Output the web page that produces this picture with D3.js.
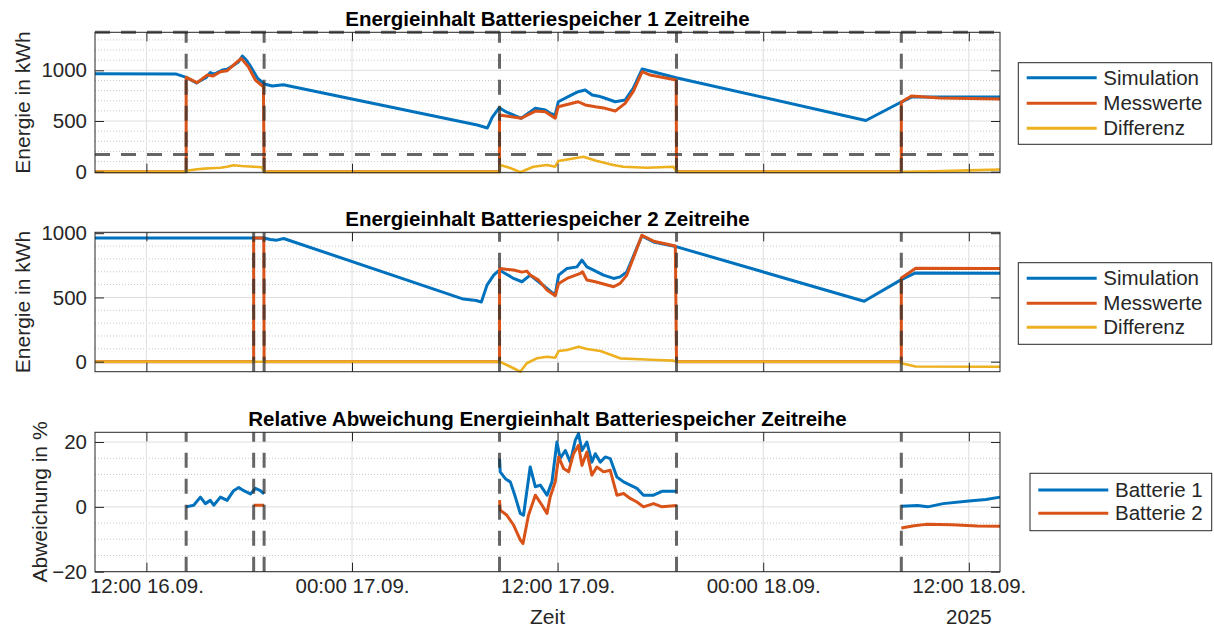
<!DOCTYPE html>
<html><head><meta charset="utf-8">
<title>Energieinhalt Batteriespeicher</title>
<script src="https://cdn.jsdelivr.net/npm/d3@7"></script>
<style>
  body { margin: 0; background: #fff; }
  svg text { font-family: "Liberation Sans", Arial, Helvetica, sans-serif; }
</style>
</head>
<body>
<svg id="fig" width="1214" height="627"></svg>
<script>

// ---- data: time in hours since 16.09.2025 00:00 ----

const xRangeHours = [9.0, 61.82];
const xTickHours = [12, 24, 36, 48, 60];

// Batteriespeicher 1 (kWh)
const sim1 = [[9.0,966],[13.75,963],[14.33,931],[14.6,905],[14.92,875],[15.33,914],[15.5,930],[15.73,978],[15.9,962],[16.08,973],[16.43,1003],[16.7,1010],[17.02,1042],[17.37,1082],[17.6,1141],[17.83,1101],[18.07,1042],[18.48,924],[18.88,865],[19.35,845],[19.99,858],
  [31.31,460],[31.9,431],[32.19,539],[32.6,631],[33.0,589],[33.88,527],[34.7,625],[35.28,608],[35.57,576],[35.86,559],[36.04,690],[36.62,740],[37.2,789],[37.61,806],[38.02,756],[38.4,745],[38.78,724],[39.36,690],[39.94,707],[40.41,822],[40.94,1013],[42.92,927],
  [53.99,505],[56.06,687],[56.65,736],[61.82,736]];
const mess1 = [[9.0,0],[14.32,0],[14.32,931],[14.96,878],[15.54,953],[15.9,945],[16.32,986],[16.7,995],[17.08,1052],[17.53,1118],[17.95,1035],[18.36,904],[18.83,838],[18.87,0],
  [32.61,0],[32.61,559],[33.0,549],[33.88,527],[34.7,598],[35.28,592],[35.86,527],[36.04,641],[36.62,665],[37.2,690],[37.61,658],[38.2,640],[38.78,625],[39.36,598],[39.94,674],[40.41,789],[40.94,986],[41.4,953],[42.92,904],[42.94,0],
  [56.06,0],[56.06,687],[56.65,746],[58.3,727],[61.82,718]];
const diff1 = [[9.0,0],[14.32,0],[14.33,10],[14.96,24],[15.4,30],[15.73,34],[16.32,39],[16.7,48],[17.08,63],[17.57,56],[18.26,49],[18.75,43],[18.87,0],
  [32.61,0],[32.65,66],[33.24,36],[33.82,-6],[34.58,49],[35.38,66],[35.86,49],[36.04,105],[36.74,125],[37.5,148],[38.3,105],[39.25,66],[39.83,49],[41.22,39],[42.76,49],[42.94,0],
  [56.06,0],[58.0,5],[60.0,13],[61.82,22]];
const limits1 = [1375, 170];
const marks1 = [14.32, 18.87, 32.61, 42.94, 56.06];

// Batteriespeicher 2 (kWh)
const sim2 = [[9.0,963],[18.85,963],[19.23,951],[19.62,946],[20.01,959],[30.5,487],[31.25,476],[31.55,464],[31.88,596],[32.27,674],[32.6,713],[33.04,679],[33.43,648],[33.92,622],[34.4,674],[34.89,622],[35.38,570],[35.86,518],[36.06,674],[36.55,726],[37.13,738],[37.42,790],[37.71,738],[38.1,713],[38.68,674],[39.27,648],[39.65,660],[40.04,699],[40.92,979],[41.6,932],[42.96,894],
  [53.89,470],[56.06,639],[56.85,690],[61.82,688]];
const mess2 = [[9.0,0],[18.26,0],[18.26,963],[18.85,963],[18.87,0],[32.61,0],[32.61,726],[33.0,719],[33.43,713],[33.92,697],[34.2,705],[34.4,674],[34.89,635],[35.38,557],[35.86,513],[36.06,609],[36.55,648],[37.33,687],[37.45,700],[37.71,635],[38.2,622],[39.27,583],[39.65,609],[40.04,674],[40.92,984],[41.6,938],[42.87,901],[42.94,0],
  [56.06,0],[56.06,652],[56.9,728],[61.82,726]];
const diff2 = [[9.0,0],[32.61,0],[33.04,-26],[33.43,-51],[33.82,-78],[34.2,-12],[34.78,26],[35.38,39],[35.86,31],[36.06,83],[36.55,91],[37.23,117],[37.71,99],[38.5,83],[39.65,26],[40.8,19],[41.8,13],[42.76,8],[42.94,0],
  [56.06,0],[56.06,-13],[56.9,-38],[61.82,-40]];
const marks2 = [18.26, 18.87, 32.61, 42.94, 56.06];

// relative Abweichung (%), null = Lücke
const dev1 = [[14.32,0],[14.76,0.5],[15.15,3],[15.44,1],[15.73,2],[15.93,0.5],[16.32,3],[16.71,2],[17.09,5],[17.39,6],[17.68,5],[18.07,4],[18.36,5.7],[18.65,5],[18.87,4],[18.9,null],
  [32.61,14.9],[32.65,10.8],[32.95,8.7],[33.24,7.7],[33.53,3.1],[33.82,-2],[34.01,-2.6],[34.4,12.3],[34.7,6.2],[34.99,6.7],[35.38,3.6],[35.67,7.7],[35.96,20],[36.15,14.9],[36.45,17.4],[36.74,13.8],[37.03,20.5],[37.22,22.6],[37.42,17.4],[37.71,20],[38.0,13.8],[38.2,16.4],[38.49,13.8],[38.78,15.4],[39.07,14.9],[39.46,9.2],[39.85,7.7],[40.24,6.7],[40.63,5.7],[41.01,3.6],[41.6,3.6],[42.09,4.8],[42.96,4.8],[43.0,null],
  [56.06,0.2],[57.0,0.4],[57.6,0],[58.5,1],[60.0,1.8],[61.0,2.3],[61.82,3]];
const dev2 = [[18.26,0.5],[18.87,0.5],[18.9,null],
  [32.61,2.1],[32.65,-1],[33.04,-2.6],[33.43,-5.6],[33.82,-10.2],[33.98,-11.3],[34.3,-2.6],[34.7,3.6],[35.09,0.5],[35.38,-2],[35.57,3.1],[35.86,7.7],[36.06,15.4],[36.35,11.8],[36.64,10.8],[36.93,16.4],[37.22,19],[37.42,12.8],[37.71,16.9],[38.0,9.8],[38.29,12.3],[38.68,10.8],[39.07,11.3],[39.46,3.6],[39.85,4.1],[40.24,2.6],[40.63,1.5],[41.01,0],[41.6,1],[42.09,0],[42.96,0.4],[43.0,null],
  [56.06,-6.5],[56.8,-5.8],[57.5,-5.4],[59.0,-5.5],[60.5,-5.9],[61.82,-6]];
const marks3 = [14.32, 18.26, 18.87, 32.61, 42.94, 56.06];

// ---- layout ----
const blue = "#0072BD", orange = "#D95319", yellow = "#EDB120";
const axisColor = "#262626";
const t0 = Date.UTC(2025, 8, 16);
const toDate = h => new Date(t0 + h * 3600e3);
const fmt = d3.utcFormat("%H:%M %d.%m.");

const left = 95, right = 1000;
const x = d3.scaleUtc().domain(xRangeHours.map(toDate)).range([left, right]);

const panels = [
  { top: 32.3, bottom: 172.7, ylim: [-10, 1375], yticks: [0, 500, 1000], minor: d3.range(100, 1375, 100),
    title: "Energieinhalt Batteriespeicher 1 Zeitreihe", ylabel: "Energie in kWh", labelX: 30,
    series: [[sim1, blue, 3], [mess1, orange, 3], [diff1, yellow, 2.6]], marks: marks1, hlines: limits1,
    legend: { x: 1018.3, y: 62.7, w: 193.4, h: 81.6, rows: [15, 40.6, 65.6], lx: [8.4, 78.4], tx: 85,
              items: [["Simulation", blue], ["Messwerte", orange], ["Differenz", yellow]] } },
  { top: 232.3, bottom: 371.7, ylim: [-78, 1007], yticks: [0, 500, 1000], minor: d3.range(100, 1000, 100),
    title: "Energieinhalt Batteriespeicher 2 Zeitreihe", ylabel: "Energie in kWh", labelX: 30,
    series: [[sim2, blue, 3], [mess2, orange, 3], [diff2, yellow, 2.6]], marks: marks2, hlines: [],
    legend: { x: 1018.3, y: 262.7, w: 193.4, h: 81.6, rows: [15.6, 40.6, 64.6], lx: [8.4, 78.4], tx: 85,
              items: [["Simulation", blue], ["Messwerte", orange], ["Differenz", yellow]] } },
  { top: 432.3, bottom: 571.7, ylim: [-20, 23], yticks: [-20, 0, 20], minor: [-15, -10, -5, 5, 10, 15],
    title: "Relative Abweichung Energieinhalt Batteriespeicher Zeitreihe", ylabel: "Abweichung in %", labelX: 47,
    series: [[dev1, blue, 3], [dev2, orange, 3]], marks: marks3, hlines: [], xlabels: true,
    legend: { x: 1030, y: 473.3, w: 181.7, h: 57.4, rows: [16.7, 40], lx: [8.3, 78.3], tx: 85,
              items: [["Batterie 1", blue], ["Batterie 2", orange]] } }
];

const svg = d3.select("#fig");

panels.forEach(p => {
  const y = d3.scaleLinear().domain(p.ylim).range([p.bottom, p.top]);
  const h = p.bottom - p.top;
  const g = svg.append("g");

  // grid: minor dotted, major solid
  const minor = p.minor.filter(v => !p.yticks.includes(v));
  g.selectAll("line.minor").data(minor).join("line")
    .attr("x1", left).attr("x2", right)
    .attr("y1", d => y(d)).attr("y2", d => y(d))
    .attr("stroke", "#c8c8c8").attr("stroke-width", 1).attr("stroke-dasharray", "1,2");
  g.selectAll("line.ygrid").data(p.yticks).join("line")
    .attr("x1", left).attr("x2", right)
    .attr("y1", d => y(d)).attr("y2", d => y(d))
    .attr("stroke", "#dedede").attr("stroke-width", 1);
  g.selectAll("line.xgrid").data(xTickHours).join("line")
    .attr("x1", d => x(toDate(d))).attr("x2", d => x(toDate(d)))
    .attr("y1", p.top).attr("y2", p.bottom)
    .attr("stroke", "#dedede").attr("stroke-width", 1);

  // data lines
  const line = d3.line()
    .defined(d => d[1] !== null)
    .x(d => x(toDate(d[0])))
    .y(d => y(d[1]));
  p.series.forEach(([data, color, w]) => {
    g.append("path").datum(data)
      .attr("d", line)
      .attr("fill", "none").attr("stroke", color).attr("stroke-width", w)
      .attr("stroke-linejoin", "round");
  });

  // segment markers and limits (dashed)
  g.selectAll("line.mark").data(p.marks).join("line")
    .attr("x1", d => x(toDate(d))).attr("x2", d => x(toDate(d)))
    .attr("y1", p.bottom).attr("y2", p.top)
    .attr("stroke", "#333").attr("stroke-opacity", 0.75)
    .attr("stroke-width", 3).attr("stroke-dasharray", "15,11");
  g.selectAll("line.limit").data(p.hlines).join("line")
    .attr("x1", left).attr("x2", right)
    .attr("y1", d => y(d)).attr("y2", d => y(d))
    .attr("stroke", "#333").attr("stroke-opacity", 0.75)
    .attr("stroke-width", 3).attr("stroke-dasharray", "15,11");

  // box
  g.append("rect").attr("x", left).attr("y", p.top)
    .attr("width", right - left).attr("height", h)
    .attr("fill", "none").attr("stroke", axisColor).attr("stroke-width", 1);

  // axes with inward ticks
  const styleAxis = sel => {
    sel.select(".domain").remove();
    sel.selectAll(".tick line").attr("stroke", axisColor);
    sel.selectAll(".tick text").attr("fill", axisColor).style("font-size", "20.5px");
  };
  g.append("g").attr("transform", `translate(${left},0)`)
    .call(d3.axisLeft(y).tickValues(p.yticks).tickSize(-9).tickPadding(8).tickFormat(d3.format("d")))
    .call(styleAxis);
  g.append("g").attr("transform", `translate(${right},0)`)
    .call(d3.axisRight(y).tickValues(p.yticks).tickSize(-9).tickFormat(""))
    .call(styleAxis);
  g.append("g").attr("transform", `translate(0,${p.top})`)
    .call(d3.axisTop(x).tickValues(xTickHours.map(toDate)).tickSize(-9).tickFormat(""))
    .call(styleAxis);
  g.append("g").attr("transform", `translate(0,${p.bottom})`)
    .call(d3.axisBottom(x).tickValues(xTickHours.map(toDate)).tickSize(-9).tickPadding(7)
      .tickFormat(p.xlabels ? fmt : ""))
    .call(styleAxis);

  // title and y label
  g.append("text").attr("x", (left + right) / 2).attr("y", p.top - 6)
    .attr("text-anchor", "middle").style("font-size", "20.5px").style("font-weight", "bold")
    .attr("fill", "#000").text(p.title);
  g.append("text")
    .attr("transform", `translate(${p.labelX},${(p.top + p.bottom) / 2}) rotate(-90)`)
    .attr("text-anchor", "middle").style("font-size", "21px").attr("fill", axisColor)
    .text(p.ylabel);

  // legend
  const L = p.legend;
  const lg = svg.append("g").attr("transform", `translate(${L.x},${L.y})`);
  lg.append("rect").attr("width", L.w).attr("height", L.h)
    .attr("fill", "#fff").attr("stroke", axisColor).attr("stroke-width", 1);
  L.items.forEach(([name, color], i) => {
    lg.append("line").attr("x1", L.lx[0]).attr("x2", L.lx[1])
      .attr("y1", L.rows[i]).attr("y2", L.rows[i])
      .attr("stroke", color).attr("stroke-width", 3);
    lg.append("text").attr("x", L.tx).attr("y", L.rows[i]).attr("dy", "0.35em")
      .style("font-size", "20.5px").attr("fill", axisColor).text(name);
  });
});

// x axis label and year
svg.append("text").attr("x", (left + right) / 2).attr("y", 624)
  .attr("text-anchor", "middle").style("font-size", "21px").attr("fill", axisColor).text("Zeit");
svg.append("text").attr("x", x(toDate(xTickHours[xTickHours.length - 1]))).attr("y", 624)
  .attr("text-anchor", "middle").style("font-size", "20.5px").attr("fill", axisColor).text("2025");

</script>
</body></html>
